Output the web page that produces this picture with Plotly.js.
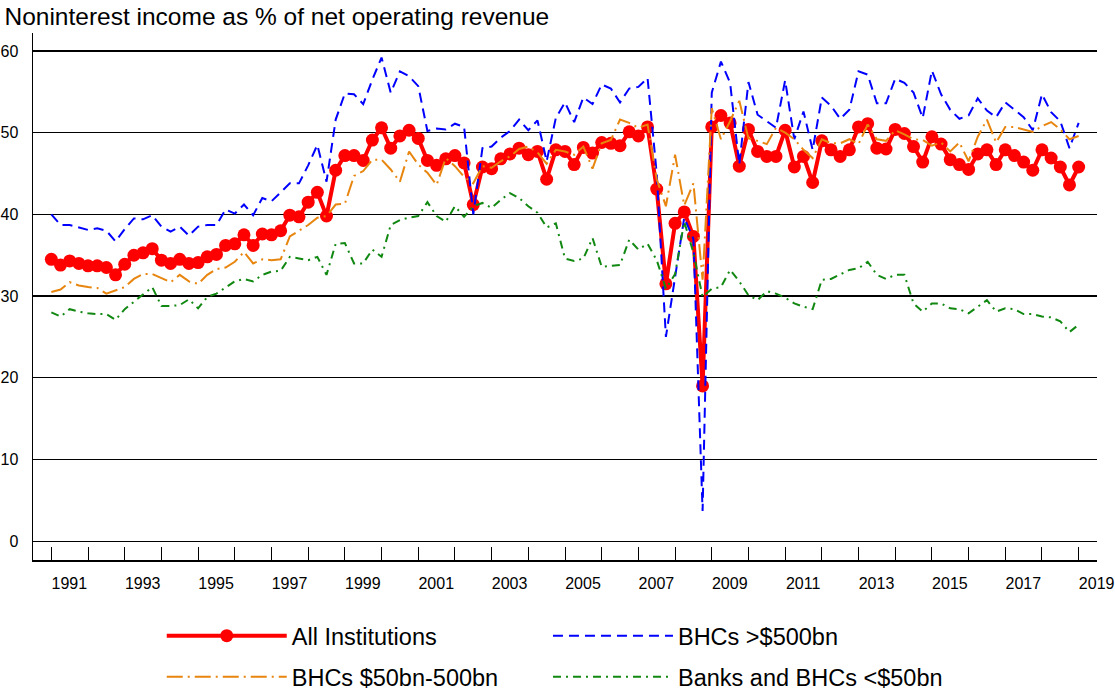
<!DOCTYPE html>
<html>
<head>
<meta charset="utf-8">
<script src="https://cdn.plot.ly/plotly-3.0.1.min.js"></script>
<style>
  html, body { margin: 0; padding: 0; background: #fff; }
  #chart { width: 1115px; height: 692px; }
</style>
</head>
<body>
<div id="chart"></div>
<script>
// Quarterly data, 1991Q1 - 2019Q1 (noninterest income as % of net operating revenue)
let firstYear = 1991;

let allInstitutions = [
  34.5, 33.8, 34.3, 34.0, 33.7, 33.7, 33.5, 32.6, 33.9, 35.0,
  35.3, 35.8, 34.4, 34.0, 34.5, 34.0, 34.1, 34.8, 35.1, 36.2,
  36.4, 37.5, 36.2, 37.6, 37.5, 38.0, 39.9, 39.7, 41.5, 42.7,
  39.8, 45.4, 47.2, 47.2, 46.6, 49.1, 50.6, 48.1, 49.6, 50.3,
  49.3, 46.6, 46.0, 46.8, 47.2, 46.3, 41.2, 45.8, 45.6, 46.8,
  47.4, 48.1, 47.3, 47.7, 44.3, 47.9, 47.7, 46.1, 48.2, 47.5,
  48.8, 48.7, 48.4, 50.1, 49.6, 50.7, 43.1, 31.5, 38.9, 40.3,
  37.3, 19.0, 50.7, 52.1, 51.2, 45.9, 50.4, 47.7, 47.1, 47.1,
  50.3, 45.8, 47.1, 43.9, 49.0, 47.9, 47.1, 47.9, 50.7, 51.1,
  48.1, 48.0, 50.4, 49.9, 48.3, 46.4, 49.5, 48.6, 46.7, 46.1,
  45.5, 47.4, 47.9, 46.1, 47.9, 47.2, 46.4, 45.4, 47.9, 46.9,
  45.8, 43.6, 45.8
];

let bhcsOver500 = [
  40.0, 38.7, 38.7, 38.4, 38.1, 38.3, 38.0, 36.7, 38.2, 39.5,
  39.4, 39.9, 38.5, 37.9, 38.5, 37.4, 38.5, 38.7, 38.7, 40.6,
  40.1, 41.2, 39.9, 42.0, 41.6, 42.7, 43.8, 43.8, 46.0, 48.5,
  44.0, 51.6, 54.8, 54.7, 53.5, 56.5, 59.2, 54.9, 57.5, 56.9,
  55.7, 50.2, 50.5, 50.4, 51.1, 50.7, 40.0, 48.1, 48.3, 49.4,
  50.2, 51.6, 50.3, 51.5, 46.5, 51.8, 53.7, 51.3, 54.3, 53.5,
  55.9, 55.4, 53.7, 55.4, 55.6, 56.7, 45.0, 25.0, 32.5, 39.6,
  37.0, 3.7, 54.9, 58.7, 56.1, 46.1, 56.2, 52.2, 51.4, 50.6,
  56.4, 49.2, 52.6, 47.9, 54.3, 53.3, 51.7, 52.8, 57.5, 57.1,
  53.6, 53.6, 56.6, 56.1, 54.9, 51.8, 57.6, 54.7, 52.8, 51.7,
  52.1, 54.2, 52.7, 51.9, 53.7, 52.8, 51.9, 50.3, 54.7, 52.5,
  51.4, 48.1, 51.2
];

let bhcs50to500 = [
  30.5, 30.8, 31.7, 31.3, 31.1, 31.0, 30.3, 30.7, 31.1, 32.1,
  32.7, 32.7, 32.2, 31.7, 32.6, 31.8, 31.5, 32.6, 33.3, 33.5,
  34.2, 35.4, 34.0, 34.5, 34.4, 34.5, 37.3, 38.0, 38.7, 39.6,
  39.8, 41.2, 41.3, 44.7, 45.3, 46.7, 46.7, 45.5, 44.0, 47.7,
  46.1, 45.1, 43.6, 46.9, 45.9, 44.6, 43.8, 45.9, 45.7, 46.5,
  47.1, 48.0, 48.3, 47.6, 46.2, 47.9, 47.7, 47.3, 48.3, 45.6,
  48.7, 49.1, 51.6, 51.2, 50.6, 51.0, 44.3, 41.0, 47.3, 41.1,
  43.8, 32.0, 53.0, 49.2, 51.4, 53.9, 49.3, 49.0, 48.6, 50.6,
  50.0, 49.2, 47.9, 46.9, 49.2, 48.7, 48.7, 49.2, 48.6, 51.0,
  49.2, 49.0, 50.3, 49.8, 49.2, 49.1, 48.4, 48.8, 47.7, 48.8,
  46.5, 49.5, 51.6, 48.8, 50.7, 50.7, 50.4, 50.1, 50.8, 51.3,
  50.4, 49.2, 49.6
];

let banksUnder50 = [
  28.0, 27.5, 28.4, 28.1, 27.9, 27.8, 27.8, 27.1, 28.4, 29.3,
  30.3, 31.1, 28.8, 28.8, 28.9, 29.6, 28.5, 29.9, 30.3, 31.0,
  31.8, 32.1, 31.8, 32.6, 33.0, 33.1, 34.8, 34.6, 34.4, 34.8,
  32.6, 36.4, 36.5, 34.0, 34.0, 35.7, 34.8, 38.7, 39.3, 39.6,
  39.8, 41.5, 39.8, 39.1, 41.0, 39.7, 41.0, 41.4, 40.8, 41.8,
  42.6, 42.0, 41.0, 40.2, 38.4, 38.9, 34.6, 34.3, 34.6, 37.1,
  33.6, 33.7, 33.8, 36.9, 35.7, 36.4, 34.4, 30.9, 32.7, 39.1,
  35.3, 29.9, 30.9, 31.1, 33.2, 31.8, 30.1, 29.5, 30.6, 30.3,
  29.8, 29.1, 28.7, 28.4, 32.0, 32.1, 32.6, 33.2, 33.4, 34.2,
  32.6, 32.1, 32.6, 32.6, 29.1, 28.1, 29.1, 29.1, 28.5, 28.4,
  27.9, 28.7, 29.5, 28.1, 28.5, 28.4, 27.8, 27.8, 27.5, 27.4,
  26.9, 25.6, 26.5
];

// x position of each quarter (decimal year)
let quarters = allInstitutions.map((v, i) => firstYear + i / 4);

// year ticks and labels (every other year labelled)
let tickYears = [];
let tickLabels = [];
for (let y = 1991; y <= 2019; y++) {
  tickYears.push(y);
  tickLabels.push(y % 2 === 1 ? String(y) : "");
}

let font = "Liberation Sans, Arial, sans-serif";

let traceAll = {
  x: quarters, y: allInstitutions,
  name: "All Institutions",
  type: "scatter", mode: "lines+markers",
  line: { color: "#ff0000", width: 4 },
  marker: { color: "#ff0000", size: 13 },
  legend: "legend"
};
let traceBig = {
  x: quarters, y: bhcsOver500,
  name: "BHCs >$500bn",
  type: "scatter", mode: "lines",
  line: { color: "#0000ff", width: 2, dash: "10px,6px" },
  legend: "legend2"
};
let traceMid = {
  x: quarters, y: bhcs50to500,
  name: "BHCs $50bn-500bn",
  type: "scatter", mode: "lines",
  line: { color: "#e8850f", width: 2, dash: "16px,5px,2px,5px" },
  legend: "legend3"
};
let traceSmall = {
  x: quarters, y: banksUnder50,
  name: "Banks and BHCs <$50bn",
  type: "scatter", mode: "lines",
  line: { color: "#118811", width: 2, dash: "8px,5px,2px,5px" },
  legend: "legend4"
};

let traceData = [traceAll, traceBig, traceMid, traceSmall];

// one legend box per entry, laid out as a 2x2 grid under the plot
let legendBase = {
  orientation: "h",
  xref: "paper", yref: "paper",
  xanchor: "left", yanchor: "middle",
  itemwidth: 120,
  font: { family: font, size: 23.5, color: "#000" },
  bgcolor: "rgba(0,0,0,0)"
};
let col1 = 0.121, col2 = 0.484, row1 = -0.144, row2 = -0.222;

let layout = {
  width: 1115, height: 692,
  paper_bgcolor: "#fff", plot_bgcolor: "#fff",
  font: { family: font, size: 16, color: "#000" },
  margin: { l: 33, r: 18, t: 33, b: 132, autoexpand: false },
  title: {
    text: "Noninterest income as % of net operating revenue",
    font: { family: font, size: 24.5, color: "#000" },
    xref: "container", x: 0.004, xanchor: "left",
    yref: "container", y: 0.976, yanchor: "middle"
  },
  xaxis: {
    range: [1990.5, 2019.5],
    tickmode: "array", tickvals: tickYears, ticktext: tickLabels,
    ticks: "inside", ticklen: 13, tickwidth: 1, tickcolor: "#000",
    ticklabelshift: 18, ticklabelstandoff: 8,
    showgrid: false, zeroline: false,
    showline: true, linecolor: "#000", linewidth: 1.5,
    tickfont: { family: font, size: 16, color: "#000" }
  },
  yaxis: {
    range: [-2.3, 62.2],
    tickmode: "array", tickvals: [0, 10, 20, 30, 40, 50, 60],
    ticks: "", ticklabelstandoff: 10,
    showgrid: true, gridcolor: "#000", gridwidth: 1.3,
    zeroline: false,
    showline: true, linecolor: "#000", linewidth: 1.5,
    tickfont: { family: font, size: 16, color: "#000" }
  },
  legend: Object.assign({}, legendBase, { x: col1, y: row1 }),
  legend2: Object.assign({}, legendBase, { x: col2, y: row1 }),
  legend3: Object.assign({}, legendBase, { x: col1, y: row2 }),
  legend4: Object.assign({}, legendBase, { x: col2, y: row2 }),
  showlegend: true
};

Plotly.newPlot("chart", traceData, layout, { staticPlot: true, displayModeBar: false });
</script>
</body>
</html>
